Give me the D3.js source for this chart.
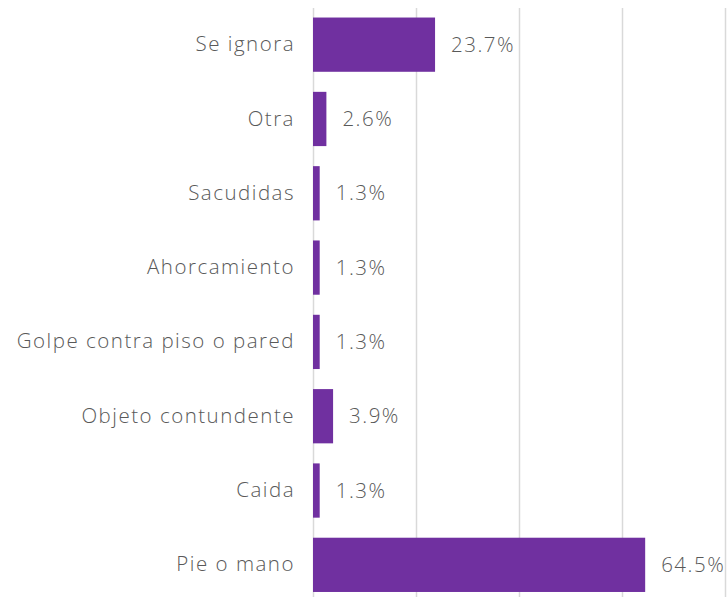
<!DOCTYPE html>
<html>
<head>
<meta charset="utf-8">
<script src="https://cdn.jsdelivr.net/npm/d3@7"></script>
<style>
  body { margin: 0; background: #fff; }
  svg text { font-family: "Open Sans", sans-serif; font-weight: 300; fill: #595959; font-size: 20.5px; letter-spacing: 1.5px; }
</style>
</head>
<body>
<svg id="chart" width="727" height="597"></svg>
<script>
const categories = ['Se ignora', 'Otra', 'Sacudidas', 'Ahorcamiento', 'Golpe contra piso o pared', 'Objeto contundente', 'Caida', 'Pie o mano'];
const values = [23.7, 2.6, 1.3, 1.3, 1.3, 3.9, 1.3, 64.5];
const gridTicks = [0, 20, 40, 60, 80];

const svg = d3.select('#chart');

const x = d3.scaleLinear().domain([0, 80]).range([313, 725]);
const y = d3.scaleBand().domain(categories).range([7.5, 602]).paddingInner(0.27).paddingOuter(0.135);

// vertical gridlines
svg.append('g').selectAll('line')
  .data(gridTicks)
  .join('line')
  .attr('x1', d => Math.round(x(d)) + 0.5)
  .attr('x2', d => Math.round(x(d)) + 0.5)
  .attr('y1', 8)
  .attr('y2', 597)
  .attr('stroke', '#d9d9d9')
  .attr('stroke-width', 1.5);

// bars
svg.append('g').selectAll('rect')
  .data(values)
  .join('rect')
  .attr('x', x(0))
  .attr('y', (d, i) => y(categories[i]))
  .attr('width', d => x(d) - x(0))
  .attr('height', y.bandwidth())
  .attr('fill', '#7030a0');

// value labels
svg.append('g').selectAll('text')
  .data(values)
  .join('text')
  .attr('x', d => x(d) + 16)
  .attr('y', (d, i) => y(categories[i]) + y.bandwidth() / 2)
  .attr('dy', '0.35em')
  .text(d => d.toFixed(1) + '%');

// category labels
const yAxis = d3.axisLeft(y).tickSize(0).tickPadding(18);
svg.append('g')
  .attr('transform', `translate(${x(0)},0)`)
  .call(yAxis)
  .call(g => g.select('.domain').remove())
  .call(g => g.selectAll('text').attr('fill', '#595959').style('font-size', null).attr('font-family', null));
</script>
</body>
</html>
